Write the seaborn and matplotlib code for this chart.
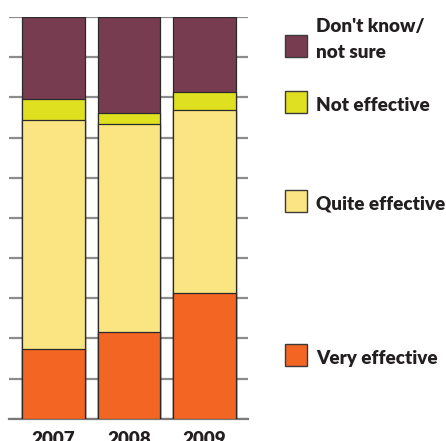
import matplotlib
matplotlib.use("Agg")
import matplotlib.pyplot as plt
from matplotlib.patches import Rectangle
import seaborn as sns
import pandas as pd
import numpy as np

years = ["2007", "2008", "2009"]
very_effective = [17.4, 21.7, 31.2]
quite_effective = [57.0, 51.6, 45.7]
not_effective = [5.1, 2.7, 4.5]
dont_know = [20.5, 24.0, 18.6]

categories = ["Very effective", "Quite effective", "Not effective", "Don't know/\nnot sure"]
colors = ["#f26522", "#fbe582", "#dfe01f", "#773c50"]

sns.set_style("white")
plt.rcParams["font.family"] = ["Lato", "DejaVu Sans"]

W, H = 446, 441
fig = plt.figure(figsize=(W / 100, H / 100), dpi=100)
ax = fig.add_axes([9 / W, (H - 418.7) / H, (248 - 9) / W, (418.7 - 17) / H])

series = [very_effective, quite_effective, not_effective, dont_know]
cumulative = np.cumsum(np.array(series), axis=0)

# Stacked bars: draw the tallest cumulative total first, then overlay lower ones
for i in range(len(series) - 1, -1, -1):
    df = pd.DataFrame({"year": years, "value": cumulative[i]})
    sns.barplot(data=df, x="year", y="value", color=colors[i], width=0.834,
                edgecolor="#2a2a2a", linewidth=0.9, saturation=1, ax=ax, zorder=3)

ax.set_xlim(-0.589, 2.576)
ax.set_ylim(0, 100)
ax.set_yticks(np.arange(0, 101, 10))
ax.yaxis.grid(True, color="#8c8c8c", linewidth=1.6, zorder=0)
ax.set_axisbelow(True)
ax.set_yticklabels([])
ax.tick_params(axis="y", length=0)
ax.tick_params(axis="x", length=0, pad=8.5)
for s in ["top", "right", "left"]:
    ax.spines[s].set_visible(False)
ax.spines["bottom"].set_color("#7a7a7a")
ax.spines["bottom"].set_linewidth(1.6)
ax.set_xlabel("")
ax.set_ylabel("")
for lbl in ax.get_xticklabels():
    lbl.set_fontweight("heavy")
    lbl.set_fontsize(13.6)
    lbl.set_color("#231f20")

# Legend: colour swatches with labels to the right of the bars
legend_centers = [354.5, 200.5, 101.5, 46.0]
line_gap = 26.3
for cat, col, yc in zip(categories, colors, legend_centers):
    fig.patches.append(Rectangle((285.3 / W, (H - yc - 11) / H), 22 / W, 22 / H,
                                 transform=fig.transFigure, facecolor=col,
                                 edgecolor="#3a3a3a", linewidth=1.0))
    lines = cat.split("\n")
    if len(lines) == 1:
        base = yc + 9.5
    else:
        base = yc + 12 - line_gap * (len(lines) - 1)
    for k, line in enumerate(lines):
        fig.text(316 / W, (H - (base + k * line_gap)) / H, line, ha="left", va="baseline",
                 fontsize=13.6, fontweight="heavy", color="#231f20")

fig.savefig("out.png", dpi=100)
